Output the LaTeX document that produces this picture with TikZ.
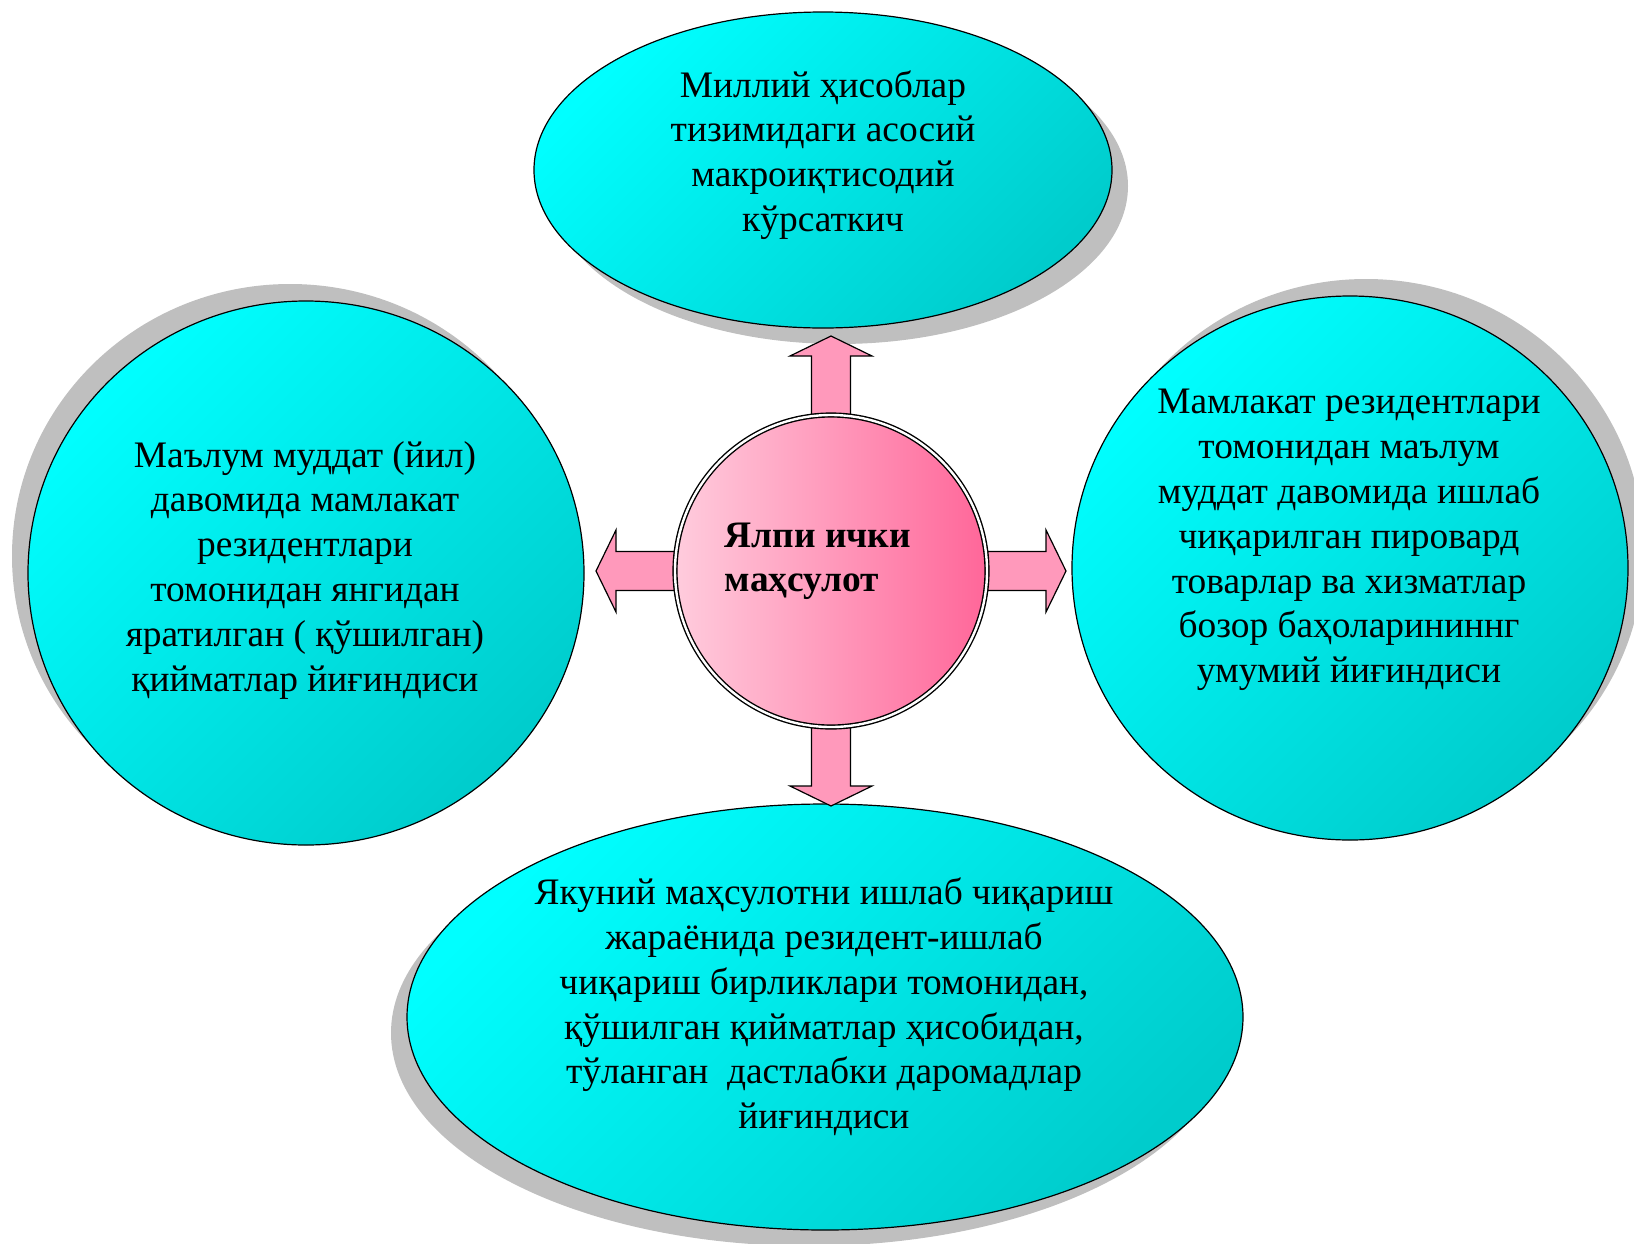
\documentclass[tikz,border=0pt]{standalone}
\usepackage{fontspec}
\setmainfont{Liberation Serif}
\usetikzlibrary{shapes.geometric,shadows}

\definecolor{cyanlight}{HTML}{00FFFF}
\definecolor{cyandark}{HTML}{00CCCC}
\definecolor{pinklight}{HTML}{FFCCDD}
\definecolor{pinkdark}{HTML}{FF6699}
\definecolor{arrowpink}{HTML}{FF99BB}
\definecolor{shadowgrey}{HTML}{BFBFBF}

\begin{document}
\begin{tikzpicture}[x=0.5pt, y=-0.5pt,
    blob/.style={ellipse, draw=black, line width=0.6pt, inner sep=0pt,
        shading=axis, top color=cyanlight, middle color=cyandark!70!cyanlight,
        bottom color=cyandark, shading angle=45},
    shade ne/.style={drop shadow={shadow xshift=8pt, shadow yshift=8.5pt, fill=shadowgrey, opacity=1}},
    shade nw/.style={drop shadow={shadow xshift=-8pt, shadow yshift=8.5pt, fill=shadowgrey, opacity=1}},
    shade se/.style={drop shadow={shadow xshift=8pt, shadow yshift=-8pt, fill=shadowgrey, opacity=1}},
    shade sw/.style={drop shadow={shadow xshift=-8pt, shadow yshift=-8pt, fill=shadowgrey, opacity=1}},
    hub/.style={circle, minimum size=156pt, inner sep=0pt, draw=black, line width=0.7pt,
        double=white, double distance=1.2pt, left color=pinklight, right color=pinkdark},
    blocktext/.style={align=center, font=\fontsize{18.7}{22.4}\selectfont},
    blockarrow/.style={fill=arrowpink, draw=black, line width=0.6pt, line join=miter}]

\useasboundingbox (0,0) rectangle (1634,1243);

% The four outer shapes
\node[blob, shade se, minimum width=289pt, minimum height=158pt] (top) at (823,170) {};
\node[blob, shade nw, minimum width=278pt, minimum height=272pt] (left) at (306,573) {};
\node[blob, shade ne, minimum width=278pt, minimum height=272pt] (right) at (1350,568) {};
\node[blob, shade sw, minimum width=418pt, minimum height=213pt] (bottom) at (825,1017) {};

% and the texts in them
\node[blocktext] (toptext) at (823,155) {Миллий ҳисоблар\\тизимидаги асосий\\макроиқтисодий\\кўрсаткич};
\node[blocktext] (lefttext) at (305,570) {Маълум муддат (йил)\\давомида мамлакат\\резидентлари\\томонидан янгидан\\яратилган ( қўшилган)\\қийматлар йиғиндиси};
\node[blocktext] (righttext) at (1349,540) {Мамлакат резидентлари\\томонидан маълум\\муддат давомида ишлаб\\чиқарилган пировард\\товарлар ва хизматлар\\бозор баҳоларининнг\\умумий йиғиндиси};
\node[blocktext] (bottomtext) at (824,1007) {Якуний маҳсулотни ишлаб чиқариш\\жараёнида резидент-ишлаб\\чиқариш бирликлари томонидан,\\қўшилган қийматлар ҳисобидан,\\тўланган\ \ дастлабки даромадлар\\йиғиндиси};

% Block arrows out of the middle
\coordinate (mid) at (831,571);
\foreach \a in {0,90,180,270} {
    \draw[blockarrow, shift={(mid)}, rotate=\a]
        (150,-19.5) -- (215,-19.5) -- (215,-41) -- (235,0) -- (215,41) -- (215,19.5) -- (150,19.5) -- cycle;
}

% The middle circle
\node[hub] (gdp) at (mid) {};
\node[align=left, font=\bfseries\fontsize{18.7}{22}\selectfont] (gdptext) at (818,561) {Ялпи ички\\маҳсулот};

\end{tikzpicture}
\end{document}
